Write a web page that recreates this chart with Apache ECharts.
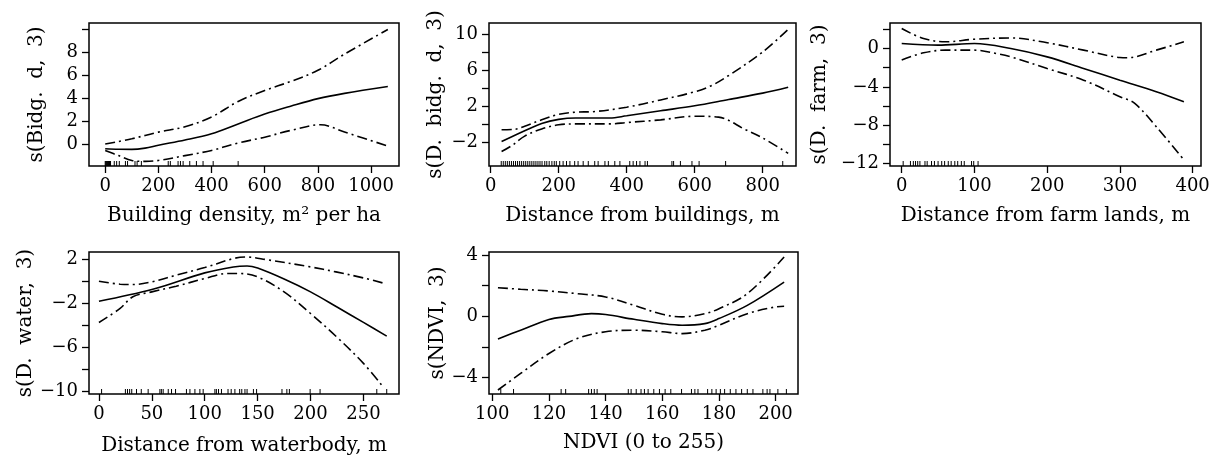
<!DOCTYPE html>
<html lang="en">
<head>
    <meta charset="UTF-8">
    <title>GAM smooth terms</title>
    <script src="https://cdn.jsdelivr.net/npm/echarts@6/dist/echarts.min.js"></script>
    <style>
        html, body { margin: 0; padding: 0; background: #fff; }
        #chart { width: 1219px; height: 459px; }
    </style>
</head>
<body>
<div id="chart"></div>

<script>
    // --- building density ---
    var bdFitX = [0, 50, 100, 150, 200, 300, 400, 500, 600, 700, 800, 900, 1063];
    var bdFit = [-0.4, -0.45, -0.46, -0.35, -0.1, 0.35, 0.9, 1.75, 2.6, 3.3, 3.94, 4.4, 5.0];
    var bdUpX = [0, 100, 200, 300, 400, 500, 600, 700, 800, 900, 1063];
    var bdUp = [0, 0.46, 1.04, 1.5, 2.35, 3.7, 4.65, 5.45, 6.4, 7.8, 9.94];
    var bdLoX = [0, 50, 100, 150, 200, 300, 400, 500, 600, 700, 810, 900, 1063];
    var bdLo = [-0.55, -1.0, -1.42, -1.5, -1.42, -1.0, -0.55, 0.1, 0.6, 1.2, 1.68, 1.04, -0.17];
    var bdRug = [0, 2, 4, 6, 8, 10, 12, 14, 16, 18, 20, 34, 43, 53, 76, 84, 112, 120, 136, 237, 245,
        274, 283, 293, 318, 343, 368, 406, 500];

    // --- distance from buildings ---
    var dbFitX = [32, 100, 150, 200, 250, 350, 400, 500, 600, 700, 800, 875];
    var dbFit = [-1.9, -0.7, 0.1, 0.55, 0.7, 0.7, 0.95, 1.5, 2.05, 2.75, 3.45, 4.1];
    var dbUpX = [32, 70, 100, 150, 200, 250, 300, 400, 500, 600, 650, 700, 800, 875];
    var dbUp = [-0.6, -0.55, -0.2, 0.5, 1.1, 1.35, 1.4, 1.9, 2.7, 3.6, 4.3, 5.4, 8.0, 10.5];
    var dbLoX = [32, 60, 100, 150, 200, 250, 350, 400, 500, 600, 670, 750, 800, 875];
    var dbLo = [-3.0, -2.4, -1.3, -0.5, -0.05, 0.05, 0.05, 0.2, 0.5, 0.9, 0.8, -0.6, -1.5, -3.2];
    var dbRug = [31, 37, 43, 49, 55, 61, 67, 73, 79, 85, 91, 97, 103, 109, 115, 121, 127, 133, 139,
        145, 151, 159, 165, 172, 180, 187, 193, 203, 213, 223, 233, 247, 257, 272, 287, 306, 316,
        336, 346, 365, 380, 409, 419, 429, 439, 454, 461, 533, 538, 558, 592, 613, 691, 859];

    // --- distance from farm lands ---
    var dfFitX = [0, 50, 100, 150, 200, 250, 300, 350, 388];
    var dfFit = [0.52, 0.35, 0.52, 0, -0.87, -2.08, -3.3, -4.5, -5.55];
    var dfUpX = [0, 30, 60, 100, 150, 200, 250, 300, 310, 350, 388];
    var dfUp = [2.08, 1.04, 0.7, 0.97, 1.1, 0.6, -0.17, -0.94, -0.97, -0.17, 0.7];
    var dfLoX = [0, 30, 60, 100, 130, 150, 200, 250, 300, 320, 350, 388];
    var dfLo = [-1.2, -0.45, -0.17, -0.17, -0.52, -0.87, -2.08, -3.3, -5.03, -5.7, -8.15, -11.6];
    var dfRug = [2, 12, 16, 19, 22, 25, 32, 35, 41, 45, 50, 55, 59, 64, 68, 73, 77, 82, 86, 96, 99, 105];

    // --- distance from waterbody ---
    var dwFitX = [0, 50, 100, 127, 140, 150, 175, 200, 225, 250, 272];
    var dwFit = [-1.82, -0.76, 0.76, 1.3, 1.39, 1.2, 0.2, -0.97, -2.35, -3.75, -5.0];
    var dwUpX = [0, 20, 32, 50, 73, 100, 127, 140, 158, 200, 224, 250, 268];
    var dwUp = [0, -0.27, -0.3, -0.06, 0.55, 1.24, 2.06, 2.2, 1.97, 1.3, 0.85, 0.3, -0.15];
    var dwLoX = [0, 20, 32, 50, 73, 100, 121, 133, 150, 175, 200, 225, 250, 268];
    var dwLo = [-3.76, -2.48, -1.42, -0.97, -0.45, 0.24, 0.7, 0.7, 0.39, -0.97, -2.94, -5.1, -7.48, -9.55];
    var dwRug = [2.5, 25, 27, 29, 31, 35.5, 40, 46.5, 57.6, 59, 60.7, 65.5, 68.6, 72.4, 82.7, 86, 90.7,
        95.4, 98.5, 109.6, 111, 113, 115.8, 122, 125, 128.5, 133, 135, 138, 140, 146, 149, 173,
        177.6, 180, 199.6, 209, 262.6, 272];

    // --- NDVI ---
    var ndFitX = [102, 110, 120, 127, 135, 140, 150, 160, 167, 175, 180, 190, 203];
    var ndFit = [-1.47, -0.9, -0.2, 0, 0.18, 0.12, -0.19, -0.47, -0.58, -0.47, -0.14, 0.72, 2.24];
    var ndUpX = [102, 110, 120, 130, 140, 150, 160, 167, 175, 180, 190, 203];
    var ndUp = [1.87, 1.77, 1.66, 1.48, 1.27, 0.72, 0.14, -0.03, 0.18, 0.5, 1.48, 3.87];
    var ndLoX = [102, 110, 120, 130, 140, 150, 160, 167, 175, 180, 190, 200, 203];
    var ndLo = [-4.8, -3.72, -2.42, -1.44, -1.0, -0.9, -1.0, -1.12, -0.9, -0.58, 0.18, 0.62, 0.66];
    var ndRug = [103, 107.5, 124.3, 125.9, 134, 135, 136, 137, 148, 149, 150.8, 152.5, 153.7, 155,
        157, 159, 161, 163, 166.8, 170.3, 171.5, 172.6, 176, 177.5, 179, 180.5, 182, 184, 186,
        188, 190, 192, 195.5, 197, 198, 200.8, 203.8];

    // tick positions and labels for each panel
    var xTicks = [[0, 200, 400, 600, 800, 1000], [0, 200, 400, 600, 800], [0, 100, 200, 300, 400],
        [0, 50, 100, 150, 200, 250], [100, 120, 140, 160, 180, 200]];
    var yTicks = [[0, 2, 4, 6, 8, 10], [-2, 0, 2, 4, 6, 8, 10], [-12, -10, -8, -6, -4, -2, 0, 2],
        [-10, -8, -6, -4, -2, 0, 2], [-4, -2, 0, 2, 4]];
    var yLabels = [[0, 2, 4, 6, 8], [-2, 2, 6, 10], [-12, -8, -4, 0], [-10, -6, -2, 2], [-4, 0, 4]];
    var xNames = ['Building density, m² per ha', 'Distance from buildings, m',
        'Distance from farm lands, m', 'Distance from waterbody, m', 'NDVI (0 to 255)'];
    var yNames = ['s(Bidg.  d,  3)', 's(D.  bidg.  d,  3)', 's(D.  farm,  3)', 's(D.  water,  3)', 's(NDVI,  3)'];

    function pairs(xs, ys) {
        return xs.map(function (x, i) { return [x, ys[i]]; });
    }

    var FONT = 'DejaVu Serif';
    var grids = [
        {left: 89, top: 23, width: 310, height: 143},
        {left: 489, top: 23, width: 307, height: 143},
        {left: 890, top: 23, width: 311, height: 143},
        {left: 89, top: 252, width: 310, height: 142},
        {left: 489, top: 252, width: 309, height: 142}
    ];
    var xRange = [[-61, 1105], [-5, 898], [-16.1, 411.5], [-9.4, 283.6], [98.84, 207.9]];
    var yRange = [[-1.9, 10.5], [-4.6, 11.2], [-12.25, 2.66], [-10.27, 2.66], [-5.06, 4.2]];
    var yGap = [42, 43, 60, 53, 37];
    var xGap = [40, 40, 40, 42, 39];

    function fmt(v) {
        return v < 0 ? '\u2212' + (-v) : String(v);
    }

    var panels = [
        [bdFitX, bdFit, bdUpX, bdUp, bdLoX, bdLo, bdRug],
        [dbFitX, dbFit, dbUpX, dbUp, dbLoX, dbLo, dbRug],
        [dfFitX, dfFit, dfUpX, dfUp, dfLoX, dfLo, dfRug],
        [dwFitX, dwFit, dwUpX, dwUp, dwLoX, dwLo, dwRug],
        [ndFitX, ndFit, ndUpX, ndUp, ndLoX, ndLo, ndRug]
    ];

    var gridOpt = [], xAxes = [], yAxes = [], series = [];
    panels.forEach(function (p, i) {
        gridOpt.push(Object.assign({show: true, borderColor: '#000', borderWidth: 1.5,
            backgroundColor: 'transparent'}, grids[i]));
        xAxes.push({
            type: 'value', gridIndex: i, min: xRange[i][0], max: xRange[i][1],
            axisLine: {show: false, onZero: false}, splitLine: {show: false},
            axisTick: {show: true, inside: false, length: 7, customValues: xTicks[i],
                lineStyle: {color: '#000', width: 1.3}},
            axisLabel: {customValues: xTicks[i], margin: 11, color: '#000', fontFamily: FONT,
                fontSize: 18, formatter: fmt},
            name: xNames[i], nameLocation: 'middle', nameGap: xGap[i],
            nameTextStyle: {color: '#000', fontFamily: FONT, fontSize: 20}
        });
        yAxes.push({
            type: 'value', gridIndex: i, min: yRange[i][0], max: yRange[i][1],
            axisLine: {show: false, onZero: false}, splitLine: {show: false},
            axisTick: {show: true, inside: false, length: 7, customValues: yTicks[i],
                lineStyle: {color: '#000', width: 1.3}},
            axisLabel: {customValues: yLabels[i], margin: 11, color: '#000', fontFamily: FONT,
                fontSize: 18, formatter: fmt},
            name: yNames[i], nameLocation: 'middle', nameGap: yGap[i],
            nameTextStyle: {color: '#000', fontFamily: FONT, fontSize: 20}
        });
        var curves = [[p[0], p[1], 'solid'], [p[2], p[3], [10, 4, 2, 4]], [p[4], p[5], [10, 4, 2, 4]]];
        curves.forEach(function (c) {
            series.push({
                type: 'line', xAxisIndex: i, yAxisIndex: i, data: pairs(c[0], c[1]),
                smooth: 0.35, showSymbol: false, silent: true,
                lineStyle: {color: '#000', width: 1.6, type: c[2]}
            });
        });
        series.push({
            type: 'custom', xAxisIndex: i, yAxisIndex: i,
            data: p[6].map(function (x) { return [x]; }),
            renderItem: function (params, api) {
                var pt = api.coord([api.value(0), 0]);
                var cs = params.coordSys;
                var yb = cs.y + cs.height;
                return {type: 'line', shape: {x1: pt[0], y1: yb, x2: pt[0], y2: yb - 5},
                    style: {stroke: '#000', lineWidth: 1}};
            }
        });
    });

    var myChart = echarts.init(document.getElementById('chart'));
    myChart.setOption({
        animation: false,
        backgroundColor: '#fff',
        grid: gridOpt,
        xAxis: xAxes,
        yAxis: yAxes,
        series: series
    });
</script>
</body>
</html>
